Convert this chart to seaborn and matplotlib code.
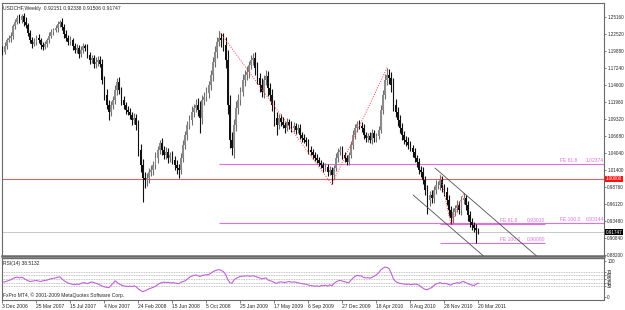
import numpy as np
import pandas as pd
import matplotlib
matplotlib.use("Agg")
import matplotlib.pyplot as plt
import matplotlib.transforms as mtrans
import seaborn as sns

# ---------------- data ----------------
symbol_title = "USDCHF,Weekly  0.92151 0.92338 0.91506 0.91747"
first_open = 1.2030
closes = [
    1.1972, 1.2066, 1.2159, 1.2190, 1.2221, 1.2376, 1.2438, 1.2500, 1.2469, 1.2532,
    1.2438, 1.2392, 1.2268, 1.2159, 1.2097, 1.2128, 1.2190, 1.2159, 1.2081, 1.2050,
    1.2097, 1.2159, 1.2221, 1.2283, 1.2314, 1.2345, 1.2407, 1.2438, 1.2361, 1.2252,
    1.2190, 1.2128, 1.2159, 1.2066, 1.2003, 1.2035, 1.1941, 1.2003, 1.2066, 1.2035,
    1.1926, 1.1848, 1.1879, 1.1786, 1.1817, 1.1848, 1.1786, 1.1538, 1.1305, 1.1149,
    1.1041, 1.1149, 1.1227, 1.1382, 1.1507, 1.1382, 1.1227, 1.1149, 1.1072, 1.1041,
    1.0994, 1.0916, 1.0947, 1.0839, 1.0450, 1.0218, 1.0016, 0.9985, 1.0016, 1.0109,
    1.0140, 1.0218, 1.0326, 1.0450, 1.0559, 1.0450, 1.0373, 1.0419, 1.0326, 1.0373,
    1.0295, 1.0218, 1.0171, 1.0140, 1.0326, 1.0528, 1.0683, 1.0839, 1.0916, 1.1041,
    1.1103, 1.1149, 1.1072, 1.0947, 1.1227, 1.1274, 1.1336, 1.1460, 1.1615, 1.1817,
    1.1972, 1.2128, 1.2190, 1.2159, 1.2081, 1.1848, 1.1149, 1.0606, 1.0482, 1.0839,
    1.1103, 1.1227, 1.1351, 1.1538, 1.1615, 1.1662, 1.1771, 1.1848, 1.1879, 1.1724,
    1.1569, 1.1460, 1.1351, 1.1538, 1.1600, 1.1413, 1.1305, 1.1149, 1.0947, 1.0839,
    1.0947, 1.0885, 1.0839, 1.0792, 1.0885, 1.0839, 1.0792, 1.0823, 1.0761, 1.0792,
    1.0683, 1.0637, 1.0606, 1.0575, 1.0450, 1.0419, 1.0373, 1.0326, 1.0295, 1.0249,
    1.0218, 1.0171, 1.0186, 1.0109, 1.0140, 1.0062, 1.0171, 1.0326, 1.0419, 1.0450,
    1.0373, 1.0326, 1.0264, 1.0373, 1.0528, 1.0683, 1.0792, 1.0854, 1.0823, 1.0792,
    1.0683, 1.0637, 1.0668, 1.0606, 1.0715, 1.0637, 1.0668, 1.0761, 1.1072, 1.1305,
    1.1538, 1.1615, 1.1569, 1.1460, 1.1149, 1.1041, 1.0916, 1.0792, 1.0683, 1.0606,
    1.0575, 1.0528, 1.0482, 1.0419, 1.0326, 1.0264, 1.0140, 1.0109, 0.9985, 0.9829,
    0.9674, 0.9752, 0.9705, 0.9829, 0.9907, 0.9907, 0.9985, 0.9860, 0.9798, 0.9674,
    0.9519, 0.9394, 0.9488, 0.9550, 0.9596, 0.9519, 0.9674, 0.9705, 0.9596, 0.9441,
    0.9332, 0.9286, 0.9239, 0.92151, 0.91747,
]
upper_wick_pips = [
    40, 55, 30, 45, 60, 35, 50, 40, 65, 31,
    45, 70, 35, 50, 40, 60, 45, 55, 35, 50,
    40, 35, 55, 45, 30, 50, 40, 30, 60, 45,
    55, 40, 65, 35, 50, 60, 40, 55, 45, 35,
    60, 45, 50, 40, 70, 55, 60, 80, 65, 90,
    75, 60, 55, 80, 62, 70, 50, 65, 45, 55,
    60, 50, 70, 55, 80, 90, 100, 85, 70, 60,
    75, 65, 90, 60, 47, 70, 55, 80, 60, 50,
    65, 55, 70, 60, 80, 75, 60, 55, 70, 85,
    60, 90, 110, 140, 80, 70, 95, 60, 85, 75,
    90, 80, 105, 70, 110, 130, 150, 160, 120, 100,
    110, 90, 80, 95, 70, 85, 60, 75, 81, 90,
    100, 80, 110, 70, 95, 80, 75, 90, 85, 100,
    60, 55, 70, 50, 65, 45, 60, 55, 50, 65,
    55, 45, 60, 50, 40, 55, 50, 45, 60, 40,
    50, 45, 55, 40, 60, 45, 50, 70, 55, 60,
    65, 50, 45, 40, 55, 70, 60, 50, 65, 55,
    60, 50, 45, 65, 55, 40, 50, 60, 70, 80,
    90, 115, 100, 85, 110, 95, 80, 70, 85, 60,
    55, 70, 60, 45, 65, 50, 60, 55, 70, 65,
    80, 60, 75, 55, 70, 60, 82, 65, 55, 70,
    80, 65, 60, 50, 70, 55, 60, 70, 50, 65,
    55, 60, 45, 60, 19,
]
lower_wick_pips = [
    50, 35, 45, 30, 55, 40, 45, 35, 50, 40,
    60, 40, 55, 45, 65, 35, 50, 40, 55, 45,
    35, 50, 40, 30, 45, 35, 55, 40, 50, 60,
    45, 55, 40, 60, 50, 45, 65, 40, 50, 55,
    50, 65, 40, 70, 55, 60, 45, 70, 80, 65,
    125, 70, 60, 55, 75, 60, 80, 65, 70, 55,
    65, 80, 60, 75, 90, 110, 376, 120, 90, 80,
    70, 85, 60, 75, 65, 80, 70, 60, 75, 65,
    70, 80, 90, 124, 60, 55, 70, 80, 65, 75,
    85, 70, 95, 232, 90, 80, 70, 85, 75, 90,
    80, 95, 70, 110, 90, 120, 140, 130, 109, 150,
    100, 90, 85, 70, 95, 80, 90, 70, 85, 110,
    95, 110, 85, 100, 80, 120, 90, 100, 130, 150,
    70, 60, 55, 75, 50, 65, 60, 55, 70, 50,
    60, 55, 50, 65, 55, 45, 60, 50, 45, 55,
    50, 60, 45, 55, 50, 147, 55, 45, 60, 50,
    55, 60, 46, 50, 45, 55, 60, 65, 50, 70,
    65, 55, 60, 50, 65, 55, 60, 50, 45, 60,
    70, 80, 95, 110, 90, 85, 100, 80, 75, 70,
    60, 65, 55, 70, 60, 75, 65, 80, 70, 85,
    214, 90, 80, 75, 70, 65, 75, 60, 70, 80,
    90, 94, 75, 60, 70, 65, 80, 70, 75, 90,
    80, 85, 70, 210, 24,
]
rsi_values = [
    41, 42, 44, 46,
    48, 52, 54, 55, 53, 55, 52,
    48, 45, 43, 44,
    45, 46, 44, 43, 45, 46, 47, 49,
    51, 52, 53, 55, 56,
    50, 45, 42,
    38, 37, 35, 34, 36, 35, 38, 40,
    39, 37, 40, 42, 40, 38,
    36, 33, 30, 28, 27, 26,
    32, 38, 45,
    40, 36, 33, 31, 30, 29, 30, 29, 31, 28,
    22, 18, 15,
    17, 20, 23, 25, 27, 30, 34, 38,
    40, 41, 40, 41, 39, 40, 39, 38,
    37, 41, 43, 45,
    50, 55, 58, 60, 61, 59,
    57, 60, 61, 62, 62,
    66, 70, 73, 75, 76, 74,
    70, 63, 48, 40, 38,
    48, 52, 55, 57, 58, 58, 59, 58, 58, 59, 57, 55, 53, 50,
    52, 53, 47, 45, 43,
    40, 38, 41, 42, 41, 40, 42, 43, 41, 42, 41, 40, 38,
    37, 36, 35, 33, 32, 31, 30, 31, 29,
    32, 31, 33, 30, 34, 31,
    38, 42, 45, 46, 44, 43, 40,
    40, 47, 53, 58, 60, 59, 58, 54, 53, 54, 52, 55,
    58, 62, 67, 75, 80, 83, 82, 78,
    65, 50, 43, 40,
    38, 37, 36, 35, 36, 34, 35, 36, 35, 33,
    28, 24, 21, 20, 24,
    26, 32, 36, 38, 40, 37,
    38, 37, 35, 33, 37, 38, 40, 38, 42, 43,
    40, 37, 35, 33, 32, 36, 38.5132,
]
date_labels = ["3 Dec 2006", "25 Mar 2007", "15 Jul 2007", "4 Nov 2007", "24 Feb 2008",
               "15 Jun 2008", "5 Oct 2008", "25 Jan 2009", "17 May 2009", "6 Sep 2009",
               "27 Dec 2009", "18 Apr 2010", "8 Aug 2010", "28 Nov 2010", "20 Mar 2011"]
date_label_bars = [0, 16, 32, 48, 64, 80, 96, 112, 128, 144, 160, 176, 192, 208, 224]
price_ticks = [1.25160, 1.22520, 1.19880, 1.17240, 1.14600, 1.11960, 1.09320, 1.06680,
               1.04040, 1.01400, 0.98760, 0.96120, 0.93480, 0.90840, 0.88200]
rsi_ticks = [0, 30, 40, 50, 60, 70, 100]
rsi_levels = [70, 60, 50, 40, 30]
rsi_label = "RSI(14) 38.5132"
copyright_text = "FxPro MT4, \u00a9 2001-2009 MetaQuotes Software Corp."
round_level = 1.00000
last_close = 0.91747
# Fibonacci expansion 1 (anchor bars and prices), its levels
fe1_bars = [102, 155, 181]
fe1_prices = [1.2295, 0.9915, 1.1730]
fe1_levels = [("FE 61.8", 1.02374), ("FE 100.0", 0.93144)]
# Fibonacci expansion 2
fe2_bars = [206, 211, 217]
fe2_prices = [1.0067, 0.9300, 0.9775]
fe2_levels = [("FE 61.8", 0.93010), ("FE 100.0", 0.90080)]
fe2_end_bar = 255.3
# descending channel (two points per line)
chan_upper = ([203.5, 260.0], [1.0171, 0.8555])
chan_lower = ([193.2, 260.0], [0.9752, 0.7841])

# ---------------- derived table ----------------
n = len(closes)
opens = [first_open] + closes[:-1]
df = pd.DataFrame({"bar": np.arange(n), "open": opens, "close": closes,
                   "uw": upper_wick_pips, "lw": lower_wick_pips, "rsi": rsi_values})
df["high"] = df[["open", "close"]].max(axis=1) + df["uw"] / 10000.0
df["low"] = df[["open", "close"]].min(axis=1) - df["lw"] / 10000.0
df["bull"] = df["close"] >= df["open"]

# ---------------- figure ----------------
sns.set_style("white")
plt.rcParams["font.family"] = ["Liberation Sans", "DejaVu Sans"]
W, H = 625, 310
fig = plt.figure(figsize=(W / 100, H / 100), dpi=100)
fig.patch.set_facecolor("white")


def fx(px):
    return px / W


def fy(py):
    return 1 - py / H


ax = fig.add_axes([fx(2), fy(256), fx(604) - fx(2), fy(3) - fy(256)])
ax2 = fig.add_axes([fx(2), fy(300), fx(604) - fx(2), fy(258) - fy(300)])
XMIN, XMAX = -0.235, 283.06
FS = 3.6
FS_AX = 3.3
frame_col = "#6a6a6a"

# candles
bull = df[df["bull"]]
bear = df[~df["bull"]]
ax.vlines(bull["bar"], bull["low"], bull["high"], colors="#6e6e6e", linewidth=0.8, zorder=3)
ax.vlines(bear["bar"], bear["low"], bear["high"], colors="#111111", linewidth=0.8, zorder=3)
ax.bar(bull["bar"], np.maximum(bull["close"] - bull["open"], 0.0004), bottom=bull["open"],
       width=0.85, color="#8a8a8a", edgecolor="none", zorder=4)
ax.bar(bear["bar"], np.maximum(bear["open"] - bear["close"], 0.0004), bottom=bear["close"],
       width=0.85, color="#111111", edgecolor="none", zorder=4)

# horizontal lines
ax.axhline(last_close, color="#c8c8c8", linewidth=0.7, zorder=1)
ax.axhline(round_level, color="#e06464", linewidth=0.8, zorder=2)
fe_col = "#e070e0"
for name, lvl in fe1_levels:
    ax.hlines(lvl, fe1_bars[0], XMAX, color=fe_col, linewidth=0.8, zorder=2)
    ax.text(262.4, lvl + 0.0012, name, color=fe_col, fontsize=FS, va="bottom", ha="left")
    ax.text(283.0, lvl + 0.0012, f"{lvl:.5f}", color=fe_col, fontsize=FS, va="bottom", ha="right")
for name, lvl in fe2_levels:
    ax.hlines(lvl, fe2_bars[0], fe2_end_bar, color=fe_col, linewidth=0.8, zorder=2)
    ax.text(234.1, lvl + 0.0012, name, color=fe_col, fontsize=FS, va="bottom", ha="left")
    ax.text(fe2_end_bar, lvl + 0.0012, f"{lvl:.5f}", color=fe_col, fontsize=FS, va="bottom", ha="right")

# fibo expansion wave lines (red dotted)
ax.plot(fe1_bars, fe1_prices, color="#ff4040", linestyle=(0, (1, 1.5)), linewidth=0.7, zorder=5)
ax.plot(fe2_bars, fe2_prices, color="#ff4040", linestyle=(0, (1, 1.5)), linewidth=0.7, zorder=5)
# channel
ax.plot(*chan_upper, color="#505050", linewidth=0.6, zorder=5)
ax.plot(*chan_lower, color="#505050", linewidth=0.6, zorder=5)

ax.set_xlim(XMIN, XMAX)
ax.set_ylim(0.88039, 1.2733)
ax.yaxis.tick_right()
ax.set_yticks(price_ticks)
ax.set_yticklabels([f"{t:.5f}" for t in price_ticks])
ax.set_xticks([])
ax.tick_params(axis="y", labelsize=FS_AX, length=1.5, width=0.6, pad=0.8, color=frame_col, right=True)
for s in ["left", "right", "top"]:
    ax.spines[s].set_color(frame_col)
    ax.spines[s].set_linewidth(0.8)
ax.spines["bottom"].set_color(frame_col)
ax.spines["bottom"].set_linewidth(1.8)

# price boxes on the right axis
bt = mtrans.blended_transform_factory(ax.transAxes, ax.transData)
ax.text(1.003, round_level, f"{round_level:.5f}", transform=bt, fontsize=FS_AX, color="white",
        va="center", ha="left", zorder=10,
        bbox=dict(facecolor="#ff1010", edgecolor="none", pad=0.5))
ax.text(1.003, last_close, f"{last_close:.5f}", transform=bt, fontsize=FS_AX, color="white",
        va="center", ha="left", zorder=10,
        bbox=dict(facecolor="#000000", edgecolor="none", pad=0.5))

ax.text(0.002, 0.988, symbol_title, transform=ax.transAxes, fontsize=FS, va="top", ha="left")

# ---------------- RSI panel ----------------
for lv in rsi_levels:
    ax2.axhline(lv, color="#b0b0b0", linestyle=(0, (1, 1)), linewidth=0.6, zorder=1)
sns.lineplot(data=df, x="bar", y="rsi", ax=ax2, color="#c060dc", linewidth=0.8, zorder=3)
ax2.set_xlim(XMIN, XMAX)
ax2.set_ylim(-8.3, 108.3)
ax2.set_xlabel("")
ax2.set_ylabel("")
ax2.yaxis.tick_right()
ax2.set_yticks(rsi_ticks)
ax2.set_yticklabels([str(t) for t in rsi_ticks])
ax2.set_xticks(date_label_bars)
ax2.set_xticklabels(date_labels)
for lbl in ax2.get_xticklabels():
    lbl.set_ha("left")
ax2.tick_params(axis="y", labelsize=FS_AX, length=1.5, width=0.6, pad=0.8, color=frame_col, right=True)
ax2.tick_params(axis="x", labelsize=FS, length=2, width=0.6, pad=1, color=frame_col, bottom=True)
for s in ["left", "right", "bottom"]:
    ax2.spines[s].set_color(frame_col)
    ax2.spines[s].set_linewidth(0.8)
ax2.spines["top"].set_color(frame_col)
ax2.spines["top"].set_linewidth(1.0)
ax2.text(0.002, 0.93, rsi_label, transform=ax2.transAxes, fontsize=FS, va="top", ha="left")
ax2.text(0.002, 0.04, copyright_text, transform=ax2.transAxes, fontsize=FS, va="bottom", ha="left")

fig.savefig("out.png", dpi=100, facecolor="white")
